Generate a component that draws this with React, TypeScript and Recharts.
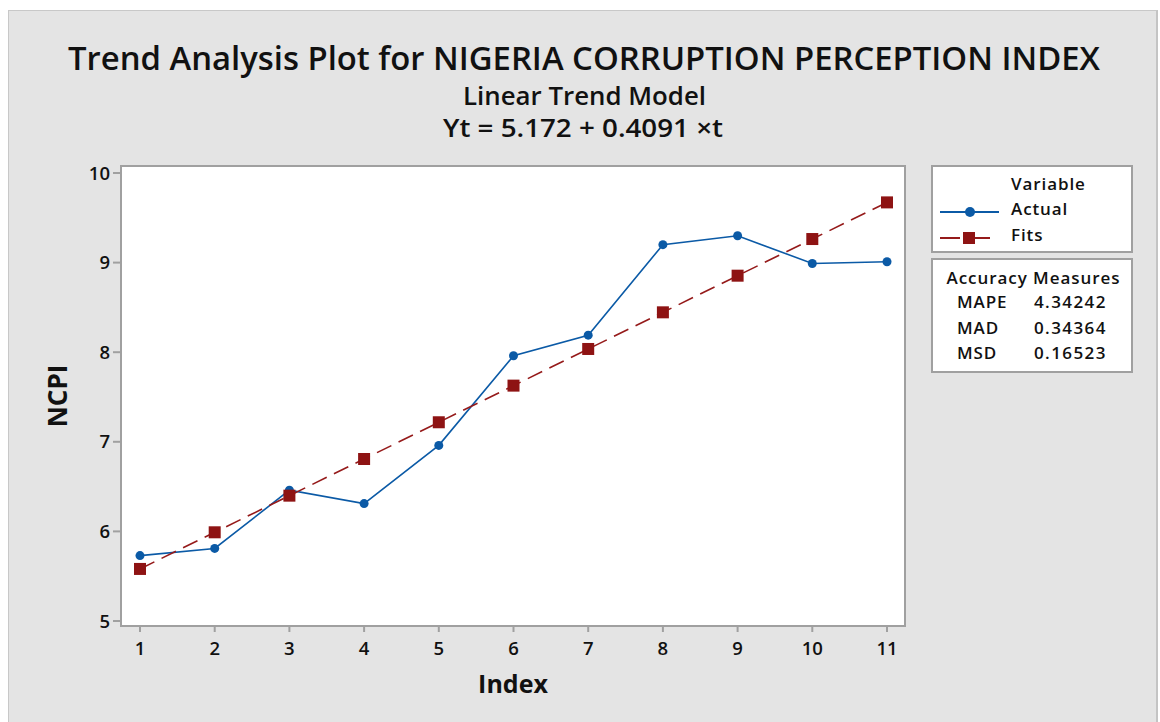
import React from 'react';
import { LineChart, Line, XAxis, YAxis, Legend } from 'recharts';

const indexValues = [1, 2, 3, 4, 5, 6, 7, 8, 9, 10, 11];
const actualValues = [5.73, 5.81, 6.46, 6.31, 6.96, 7.96, 8.19, 9.2, 9.3, 8.99, 9.01];
const fitsValues = [5.581, 5.99, 6.399, 6.808, 7.218, 7.627, 8.036, 8.445, 8.854, 9.263, 9.672];
const xTicks = [1, 2, 3, 4, 5, 6, 7, 8, 9, 10, 11];
const yTicks = [5, 6, 7, 8, 9, 10];
const measureNames = ['MAPE', 'MAD', 'MSD'];
const measureValues = ['4.34242', '0.34364', '0.16523'];
const titleText = 'Trend Analysis Plot for NIGERIA CORRUPTION PERCEPTION INDEX';
const subtitleText = 'Linear Trend Model';
const equationText = 'Yt = 5.172 + 0.4091 \u00d7t';
const xLabel = 'Index';
const yLabel = 'NCPI';
const legendTitle = 'Variable';
const accuracyTitle = 'Accuracy Measures';

const data = indexValues.map((t, i) => ({ index: t, Actual: actualValues[i], Fits: fitsValues[i] }));

const FONT = "'Open Sans', 'Noto Sans', 'DejaVu Sans', sans-serif";
const BLUE = '#0b5aa6';
const RED = '#951a1a';
const BORDER = '#a0a0a0';

const SquareDot = (props: any) => {
  const { cx, cy, index } = props;
  if (cx == null || cy == null) return null;
  return <rect key={`sq-${index}`} x={cx - 6} y={cy - 6} width={12} height={12} fill="#8e1313" />;
};

const LegendContent = (props: any) => {
  const payload = props.payload || [];
  const actual = payload.find((p: any) => p.value === 'Actual');
  const fits = payload.find((p: any) => p.value === 'Fits');
  const textStyle = { fontFamily: FONT, fontSize: 17, fontWeight: 600, fill: '#111' } as any;
  return (
    <svg width={204} height={210} style={{ display: 'block' }}>
      <rect x={1} y={1} width={200} height={86} fill="#fff" stroke={BORDER} strokeWidth={2} />
      <text x={80} y={25} style={textStyle} letterSpacing={0.9}>{legendTitle}</text>
      <line x1={9} x2={68} y1={47} y2={47} stroke={actual ? actual.color : BLUE} strokeWidth={1.8} />
      <circle cx={39} cy={47} r={5} fill={actual ? actual.color : BLUE} />
      <text x={80} y={50} style={textStyle} letterSpacing={0.9}>Actual</text>
      <line x1={9} x2={68} y1={73} y2={73} stroke={fits ? fits.color : RED} strokeWidth={1.8} strokeDasharray="20 10" />
      <rect x={32} y={67} width={12} height={12} fill="#8e1313" />
      <text x={80} y={76} style={textStyle} letterSpacing={0.9}>Fits</text>
      <rect x={1} y={94} width={200} height={113} fill="#fff" stroke={BORDER} strokeWidth={2} />
      <text x={102} y={119} textAnchor="middle" style={textStyle} textLength={173} lengthAdjust="spacing">{accuracyTitle}</text>
      {measureNames.map((n, i) => (
        <g key={n}>
          <text x={26} y={143 + i * 25.5} style={textStyle} letterSpacing={0.9}>{n}</text>
          <text x={103} y={143 + i * 25.5} style={textStyle} letterSpacing={1.4}>{measureValues[i]}</text>
        </g>
      ))}
    </svg>
  );
};

export default function App() {
  return (
    <div style={{ position: 'absolute', left: 0, top: 0, width: 1160, height: 722, background: '#fff', overflow: 'hidden' }}>
      <div style={{ position: 'absolute', left: 8, top: 10, width: 1147, height: 720, background: '#e4e4e4', borderLeft: '1px solid #c8c8c8', borderTop: '1px solid #c8c8c8', borderRight: '2px solid #c4c4c4' }} />
      <div style={{ position: 'absolute', left: 120, top: 165, width: 786, height: 462, background: '#fff', border: `2px solid ${BORDER}`, boxSizing: 'border-box' }} />
      <svg width={1160} height={160} style={{ position: 'absolute', left: 0, top: 0 }}>
        <text x={68} y={70} fontFamily={FONT} fontSize={33} fontWeight={600} fill="#111" textLength={1032} lengthAdjust="spacingAndGlyphs">{titleText}</text>
        <text x={463} y={105} fontFamily={FONT} fontSize={25} fontWeight={600} fill="#111" textLength={243} lengthAdjust="spacingAndGlyphs">{subtitleText}</text>
        <text x={443} y={137} fontFamily={FONT} fontSize={25} fontWeight={600} fill="#111" textLength={280} lengthAdjust="spacingAndGlyphs">{equationText}</text>
      </svg>
      <div style={{ position: 'absolute', left: 0, top: 0 }}>
        <LineChart width={1160} height={722} data={data} margin={{ top: 166, right: 255, bottom: 66, left: 61 }}>
          <XAxis
            dataKey="index"
            type="number"
            domain={[1, 11]}
            ticks={xTicks}
            padding={{ left: 19, right: 18 }}
            axisLine={false}
            tickLine={{ stroke: BORDER, strokeWidth: 2 }}
            tickSize={6}
            tickMargin={10}
            height={30}
            tick={{ fontFamily: FONT, fontSize: 18.5, fontWeight: 600, fill: '#111' }}
            label={{
              content: (p: any) => {
                const vb = p.viewBox || { x: 121, y: 626, width: 784, height: 30 };
                return (
                  <text x={vb.x + vb.width / 2} y={693} textAnchor="middle" fontFamily={FONT} fontSize={25} fontWeight={700} fill="#111">{xLabel}</text>
                );
              },
            }}
          />
          <YAxis
            type="number"
            domain={[5, 10]}
            ticks={yTicks}
            padding={{ top: 7, bottom: 5 }}
            axisLine={false}
            tickLine={{ stroke: BORDER, strokeWidth: 2 }}
            tickSize={8}
            tickMargin={3}
            width={60}
            tick={{ fontFamily: FONT, fontSize: 18.5, fontWeight: 600, fill: '#111' }}
            label={{
              content: (p: any) => {
                const vb = p.viewBox || { x: 61, y: 166, width: 60, height: 460 };
                const cx = 67;
                const cy = vb.y + vb.height / 2;
                return (
                  <text x={cx} y={cy} transform={`rotate(-90 ${cx} ${cy})`} textAnchor="middle" fontFamily={FONT} fontSize={26} fontWeight={700} fill="#111">{yLabel}</text>
                );
              },
            }}
          />
          <Legend
            layout="horizontal"
            verticalAlign="middle"
            align="center"
            content={LegendContent}
            wrapperStyle={{ position: 'absolute', left: 931, top: 165, width: 204, height: 210 }}
          />
          <Line
            dataKey="Actual"
            name="Actual"
            stroke={BLUE}
            strokeWidth={1.6}
            dot={{ r: 4.5, fill: BLUE, stroke: 'none' }}
            activeDot={false}
            isAnimationActive={false}
          />
          <Line
            dataKey="Fits"
            name="Fits"
            stroke={RED}
            strokeWidth={1.6}
            strokeDasharray="16 8"
            dot={SquareDot}
            activeDot={false}
            isAnimationActive={false}
          />
        </LineChart>
      </div>
    </div>
  );
}
